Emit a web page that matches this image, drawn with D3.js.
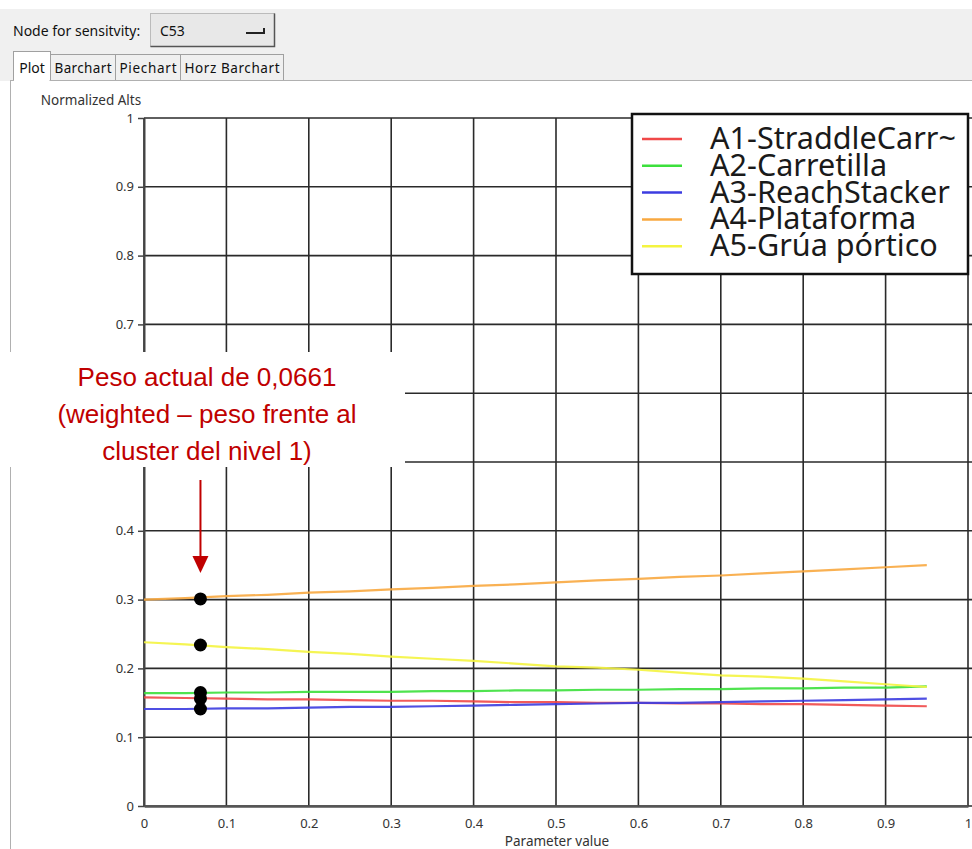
<!DOCTYPE html>
<html><head><meta charset="utf-8">
<script src="https://cdn.jsdelivr.net/npm/d3@7"></script>
<style>
body{margin:0;background:#fff;}
svg{display:block;}
</style></head>
<body>
<svg id="c" width="972" height="849"></svg>
<script>
const params = [0,0.05,0.1,0.15,0.2,0.25,0.3,0.35,0.4,0.45,0.5,0.55,0.6,0.65,0.7,0.75,0.8,0.85,0.9,0.95];
const names = ["A1-StraddleCarr~","A2-Carretilla","A3-ReachStacker","A4-Plataforma","A5-Grúa pórtico"];
const colors = ["#f04848","#3ce03c","#3c3ce0","#f8a840","#f4f440"];
const a1 = [0.158,0.157,0.156,0.155,0.155,0.154,0.153,0.153,0.152,0.151,0.151,0.150,0.150,0.149,0.149,0.148,0.148,0.147,0.146,0.145];
const a2 = [0.164,0.164,0.165,0.165,0.166,0.166,0.166,0.167,0.167,0.168,0.168,0.169,0.169,0.170,0.170,0.171,0.171,0.172,0.172,0.174];
const a3 = [0.141,0.141,0.142,0.142,0.143,0.144,0.144,0.145,0.146,0.147,0.148,0.149,0.150,0.150,0.151,0.152,0.153,0.154,0.155,0.156];
const a4 = [0.300,0.302,0.305,0.307,0.310,0.312,0.315,0.317,0.320,0.322,0.325,0.328,0.330,0.333,0.335,0.338,0.341,0.344,0.347,0.350];
const a5 = [0.238,0.235,0.231,0.228,0.224,0.221,0.217,0.214,0.211,0.207,0.203,0.201,0.198,0.194,0.190,0.188,0.185,0.181,0.177,0.173];
const series = [a1,a2,a3,a4,a5];
const currentWeight = 0.0661;
const currentValues = [0.156,0.165,0.141,0.301,0.234];
const xTicks = [0,0.1,0.2,0.3,0.4,0.5,0.6,0.7,0.8,0.9,1];
const yTicks = [0,0.1,0.2,0.3,0.4,0.5,0.6,0.7,0.8,0.9,1];
const annotation = ["Peso actual de 0,0661","(weighted – peso frente al","cluster del nivel 1)"];

const svg = d3.select("#c");
const ui = "'Noto Sans', 'Open Sans', sans-serif";

// toolbar background
svg.append("rect").attr("x",0).attr("y",9).attr("width",972).attr("height",72).attr("fill","#f0f0f0");
svg.append("text").attr("x",13).attr("y",36).attr("font-family",ui).attr("font-size",14).attr("fill","#111").text("Node for sensitvity:");
// dropdown
svg.append("rect").attr("x",150.5).attr("y",13.5).attr("width",124).attr("height",33).attr("fill","#e8e8e8").attr("stroke","#bbb");
svg.append("path").attr("d","M274.5,13.5V46.5H150.5").attr("fill","none").attr("stroke","#555").attr("stroke-width",1.5);
svg.append("text").attr("x",160).attr("y",36).attr("font-family",ui).attr("font-size",14).attr("fill","#111").text("C53");
svg.append("path").attr("d","M246,33H264V28").attr("fill","none").attr("stroke","#222").attr("stroke-width",2);
// tabs
const tabs=[["Plot",13,50],["Barchart",50,115],["Piechart",115,180],["Horz Barchart",180,283]];
tabs.forEach((t,i)=>{
  const sel=i===0;
  svg.append("rect").attr("x",t[1]+0.5).attr("y",sel?51.5:54.5).attr("width",t[2]-t[1]).attr("height",sel?30:26)
    .attr("fill",sel?"#fff":"#f0f0f0").attr("stroke","#a0a0a0");
  svg.append("text").attr("x",(t[1]+t[2])/2+0.5).attr("y",73).attr("text-anchor","middle").attr("font-family",ui)
    .attr("font-size",sel?14:13.5).attr("fill","#111").attr("textLength",sel?null:(t[2]-t[1]-8)).text(t[0]);
});
// panel
svg.append("rect").attr("x",10.5).attr("y",80.5).attr("width",975).attr("height",800).attr("fill","#fff").attr("stroke","#b0b0b0");
svg.append("rect").attr("x",14).attr("y",76).attr("width",35.5).attr("height",8).attr("fill","#fff");

// scales
const x = d3.scaleLinear().domain([0,1]).range([144,968]);
const y = d3.scaleLinear().domain([0,1]).range([806,118]);

const g = svg.append("g");
// grid
g.selectAll(".vg").data(xTicks).join("line").attr("x1",d=>x(d)).attr("x2",d=>x(d)).attr("y1",y(1)).attr("y2",y(0))
  .attr("stroke","#2a2a2a").attr("stroke-width",1.6);
g.selectAll(".hg").data(yTicks).join("line").attr("x1",x(0)).attr("x2",972).attr("y1",d=>y(d)).attr("y2",d=>y(d))
  .attr("stroke","#2a2a2a").attr("stroke-width",1.6);

// axes
const fmt = d=>d===0||d===1?String(d):d3.format(".1f")(d);
const yAxis = d3.axisLeft(y).tickValues(yTicks).tickFormat(fmt).tickSize(6).tickSizeOuter(0);
const ya = svg.append("g").attr("transform",`translate(${x(0)},0)`).call(yAxis);
ya.select(".domain").attr("stroke","#444").attr("stroke-width",2);
ya.selectAll(".tick line").attr("stroke","#444").attr("stroke-width",1.5);
ya.selectAll(".tick text").attr("font-family",ui).attr("font-size",13).attr("fill","#333").attr("dx",-1);
// labels 0.5 and 0.6 are hidden under the annotation box in the reference
ya.selectAll(".tick").filter(d=>d===0.5||d===0.6).select("text").remove();
const xAxis = d3.axisBottom(x).tickValues(xTicks).tickFormat(fmt).tickSize(0).tickSizeOuter(0);
const xa = svg.append("g").attr("transform",`translate(0,${y(0)})`).call(xAxis);
xa.select(".domain").attr("stroke","#555").attr("stroke-width",2.5);
xa.selectAll(".tick text").attr("font-family",ui).attr("font-size",13).attr("fill","#333").attr("y",13);
svg.append("text").attr("x",91).attr("y",105).attr("text-anchor","middle").attr("font-family",ui).attr("font-size",13.5).attr("fill","#333").text("Normalized Alts");
svg.append("text").attr("x",557).attr("y",846).attr("text-anchor","middle").attr("font-family",ui).attr("font-size",13.5).attr("fill","#333").text("Parameter value");

// lines
series.forEach((s,k)=>{
  svg.append("path").datum(s).attr("d",d3.line().x((d,i)=>x(params[i])).y(d=>y(d))).attr("fill","none")
    .attr("stroke",colors[k]).attr("stroke-width",2.2).attr("stroke-opacity",0.9);
});

// current-weight dots
svg.selectAll(".dot").data(currentValues).join("circle").attr("cx",x(currentWeight)+2).attr("cy",d=>y(d)).attr("r",6.5).attr("fill","#000");

// legend
const lg = svg.append("g");
lg.append("rect").attr("x",632).attr("y",114).attr("width",336).attr("height",160).attr("fill","#fff").attr("stroke","#111").attr("stroke-width",2.5);
names.forEach((n,i)=>{
  const ly = 139 + i*26.8;
  lg.append("line").attr("x1",642).attr("x2",682).attr("y1",ly).attr("y2",ly).attr("stroke",colors[i]).attr("stroke-width",2.5);
  lg.append("text").attr("x",710).attr("y",ly+10).attr("font-family",ui).attr("font-size",29).attr("fill","#1a1a1a")
    .attr("transform",`translate(710,${ly+10}) scale(1.055,1.05) translate(-710,${-(ly+10)})`).text(n);
});

// annotation
svg.append("rect").attr("x",0).attr("y",352).attr("width",405).attr("height",115).attr("fill","#fff");
annotation.forEach((t,i)=>{
  svg.append("text").attr("x",207).attr("y",386+i*37).attr("text-anchor","middle").attr("font-family","'Liberation Sans', Arial, sans-serif")
    .attr("font-size",26).attr("fill","#c00000").text(t);
});
svg.append("line").attr("x1",x(currentWeight)+2).attr("x2",x(currentWeight)+2).attr("y1",480).attr("y2",560).attr("stroke","#c00000").attr("stroke-width",2);
svg.append("path").attr("d",`M${x(currentWeight)+2-8},556L${x(currentWeight)+2+8},556L${x(currentWeight)+2},573Z`).attr("fill","#c00000");
</script>
</body></html>
